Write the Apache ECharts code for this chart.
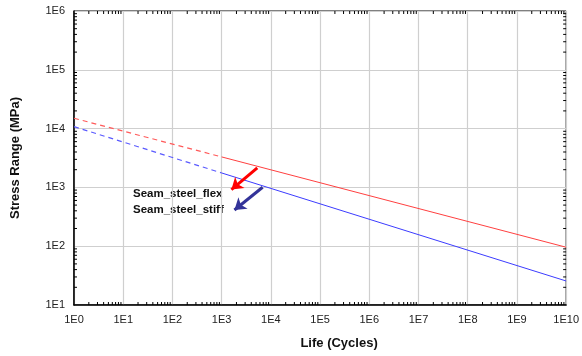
<!DOCTYPE html>
<html>
<head>
<meta charset="utf-8">
<script src="https://cdn.jsdelivr.net/npm/echarts@6/dist/echarts.min.js"></script>
<style>
  html, body { margin: 0; padding: 0; background: #fff; }
  #chart { width: 582px; height: 356px; }
</style>
</head>
<body>
<div id="chart"></div>
<script>
// tick labels (decades)
const xTickLabels = ["1E0", "1E1", "1E2", "1E3", "1E4", "1E5", "1E6", "1E7", "1E8", "1E9", "1E10"];
const yTickLabels = ["1E0", "1E1", "1E2", "1E3", "1E4", "1E5", "1E6"];

// S-N curves: [cycles, stress MPa]
const flexDashed = [[1, 15000], [1000, 3300]];
const flexSolid = [[1000, 3300], [1e10, 96]];
const stiffDashed = [[1, 10800], [1000, 1760]];
const stiffSolid = [[1000, 1760], [1e10, 25.6]];

// annotation arrows: [start, end] in data space
const flexArrow = [[5300, 2140], [1580, 920]];
const stiffArrow = [[6800, 1005], [1820, 413]];

const seriesNames = ["Seam_steel_flex", "Seam_steel_stiff"];

// minor tick positions (2..9 x each decade)
const xMinor = [];
for (let k = 0; k < 10; k++) for (let m = 2; m <= 9; m++) xMinor.push(m * Math.pow(10, k));
const yMinor = [];
for (let k = 1; k < 6; k++) for (let m = 2; m <= 9; m++) yMinor.push(m * Math.pow(10, k));

const X_MIN = 1, X_MAX = 1e10, Y_MIN = 10, Y_MAX = 1e6;
const TICK = 3;

const chart = echarts.init(document.getElementById("chart"));

const decadeLabel = (labels) => (v) => labels[Math.round(Math.log10(v))] ?? "";

const axisFont = { color: "#222", fontFamily: "Liberation Sans, Arial, sans-serif", fontSize: 11 };
const titleFont = { fontFamily: "Liberation Sans, Arial, sans-serif", fontSize: 13, fontWeight: "bold", color: "#111" };

chart.setOption({
  backgroundColor: "#fff",
  animation: false,
  grid: { left: 74, right: 14, top: 11, bottom: 51, show: true, borderColor: "#000", borderWidth: 1 },
  xAxis: {
    type: "log",
    logBase: 10,
    min: X_MIN,
    max: X_MAX,
    interval: 1,
    name: "Life (Cycles)",
    nameLocation: "middle",
    nameGap: 32,
    nameTextStyle: { ...titleFont, padding: [0, 0, 0, 38] },
    axisLine: { lineStyle: { color: "#000", width: 1.5 } },
    axisTick: { show: false },
    axisLabel: { ...axisFont, margin: 9, showMinLabel: true, showMaxLabel: true, formatter: decadeLabel(xTickLabels) },
    splitLine: { show: true, lineStyle: { color: "#cfcfcf", width: 1.2 } },
  },
  yAxis: {
    type: "log",
    logBase: 10,
    min: Y_MIN,
    max: Y_MAX,
    interval: 1,
    name: "Stress Range (MPa)",
    nameLocation: "middle",
    nameGap: 52,
    nameTextStyle: titleFont,
    axisLine: { lineStyle: { color: "#000", width: 1.5 } },
    axisTick: { show: false },
    axisLabel: { ...axisFont, margin: 9, formatter: decadeLabel(yTickLabels) },
    splitLine: { show: true, lineStyle: { color: "#cfcfcf", width: 1.2 } },
  },
  series: [
    {
      type: "line",
      data: flexDashed,
      symbol: "none",
      lineStyle: { color: "#ff5a5a", width: 1.2, type: [5, 4] },
    },
    {
      type: "line",
      data: flexSolid,
      symbol: "none",
      lineStyle: { color: "#ff4040", width: 1 },
      markLine: {
        silent: true,
        symbol: ["none", "arrow"],
        symbolSize: [11, 11],
        label: { show: false },
        lineStyle: { color: "#ff0000", width: 3, type: "solid" },
        data: [[{ coord: flexArrow[0] }, { coord: flexArrow[1] }]],
      },
    },
    {
      type: "line",
      data: stiffDashed,
      symbol: "none",
      lineStyle: { color: "#5a5aff", width: 1.2, type: [5, 4] },
    },
    {
      type: "line",
      data: stiffSolid,
      symbol: "none",
      lineStyle: { color: "#3c3cff", width: 1 },
      markLine: {
        silent: true,
        symbol: ["none", "arrow"],
        symbolSize: [11, 11],
        label: { show: false },
        lineStyle: { color: "#333399", width: 3, type: "solid" },
        data: [[{ coord: stiffArrow[0] }, { coord: stiffArrow[1] }]],
      },
    },
    {
      // minor ticks on bottom and top edges
      type: "custom",
      silent: true,
      clip: false,
      data: xMinor.map((v) => [v, Y_MIN]),
      renderItem: (params, api) => {
        const v = api.value(0);
        const b = api.coord([v, Y_MIN]);
        const t = api.coord([v, Y_MAX]);
        const style = { stroke: "#000", lineWidth: 1 };
        return {
          type: "group",
          children: [
            { type: "line", shape: { x1: b[0], y1: b[1], x2: b[0], y2: b[1] - TICK }, style },
            { type: "line", shape: { x1: t[0], y1: t[1], x2: t[0], y2: t[1] + TICK }, style },
          ],
        };
      },
    },
    {
      // minor ticks on left and right edges
      type: "custom",
      silent: true,
      clip: false,
      data: yMinor.map((v) => [X_MIN, v]),
      renderItem: (params, api) => {
        const v = api.value(1);
        const l = api.coord([X_MIN, v]);
        const r = api.coord([X_MAX, v]);
        const style = { stroke: "#000", lineWidth: 1 };
        return {
          type: "group",
          children: [
            { type: "line", shape: { x1: l[0], y1: l[1], x2: l[0] + TICK, y2: l[1] }, style },
            { type: "line", shape: { x1: r[0], y1: r[1], x2: r[0] - TICK, y2: r[1] }, style },
          ],
        };
      },
    },
  ],
  graphic: [
    {
      type: "text",
      left: 133,
      top: 188,
      style: { text: seriesNames[0], font: "bold 11.5px Liberation Sans, Arial, sans-serif", fill: "#111" },
    },
    {
      type: "text",
      left: 133,
      top: 204,
      style: { text: seriesNames[1], font: "bold 11.5px Liberation Sans, Arial, sans-serif", fill: "#111" },
    },
  ],
});
</script>
</body>
</html>
